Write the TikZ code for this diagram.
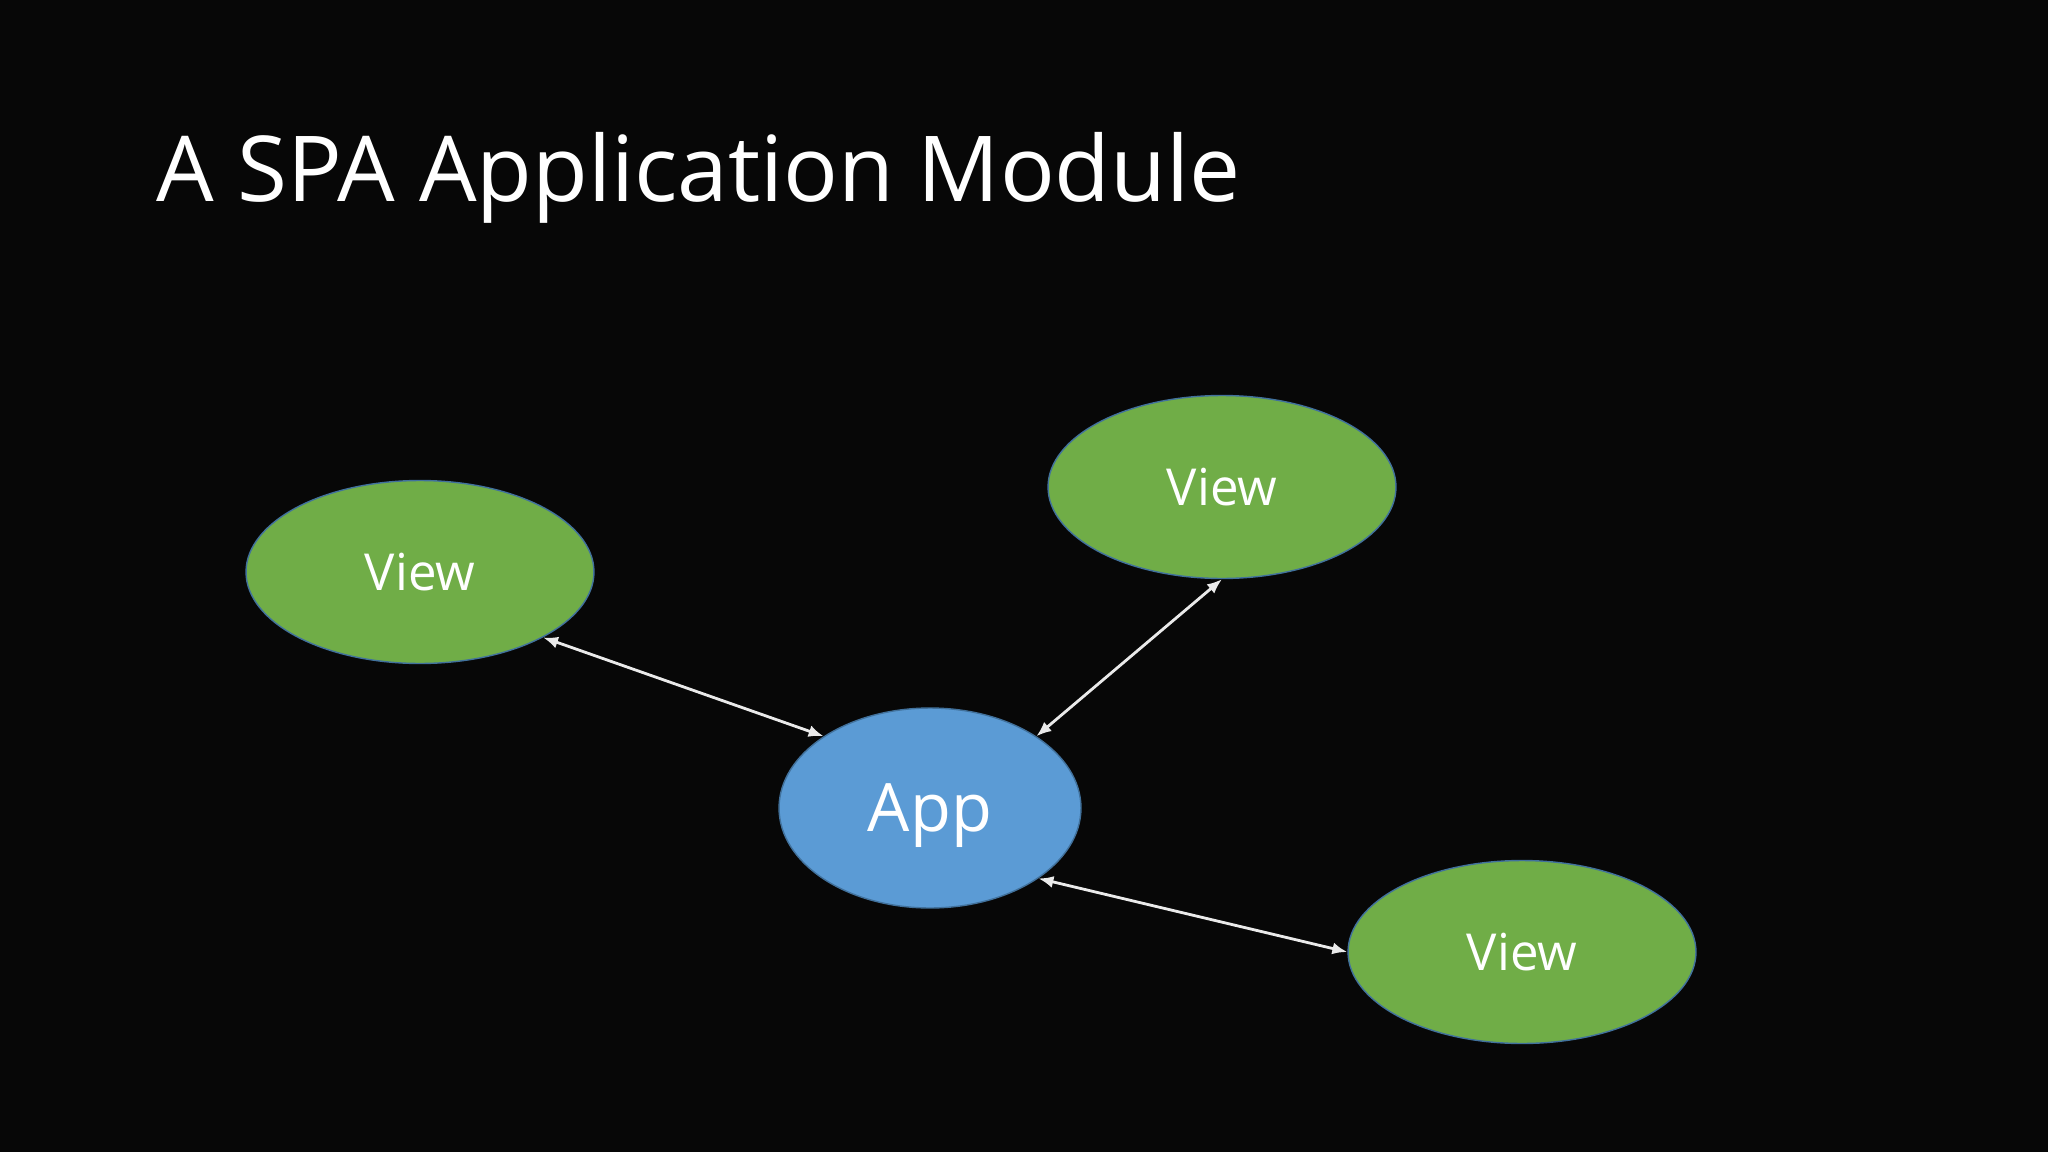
\documentclass[tikz,border=0pt]{standalone}
\usepackage{fontspec}
\setmainfont{Open Sans}
\usetikzlibrary{shapes.geometric,arrows.meta}
\definecolor{bgcol}{HTML}{070707}
\definecolor{viewgreen}{HTML}{70AD47}
\definecolor{appblue}{HTML}{5B9BD5}
\definecolor{edgeblue}{HTML}{41719C}
\definecolor{arrowcol}{HTML}{EAEAEA}
\tikzset{
  viewnode/.style={ellipse, draw=edgeblue, line width=0.8pt, fill=viewgreen,
    minimum width=6.96cm, minimum height=3.66cm, inner sep=0pt,
    text=white, font=\fontsize{29}{29}\selectfont, text depth=0pt},
  appnode/.style={ellipse, draw=edgeblue, line width=0.8pt, fill=appblue,
    minimum width=6.04cm, minimum height=4.0cm, inner sep=0pt,
    text=white, font=\fontsize{38}{38}\selectfont, text depth=0pt},
  link/.style={draw=arrowcol, line width=1.6pt,
    {Latex[length=0.3cm,width=0.24cm]}-{Latex[length=0.3cm,width=0.24cm]}},
  titletext/.style={anchor=base west, inner sep=0pt, text=white,
    font=\fontsize{51.8}{51.8}\selectfont}
}
\begin{document}
\begin{tikzpicture}[x=0.02cm, y=-0.02cm]
  \fill[bgcol] (0,0) rectangle (2048,1152);
  \useasboundingbox (0,0) rectangle (2048,1152);
  \node[titletext] (title) at (156,202) {A SPA Application Module};
  \node[viewnode] (vl) at (420,572) {View};
  \node[viewnode] (vt) at (1222,487) {View};
  \node[viewnode] (vb) at (1522,952) {View};
  \node[appnode] (app) at (930,808) {App};
  \draw[link] (vl.-28) -- (app.146);
  \draw[link] (vt.-90) -- (app.34);
  \draw[link] (app.-33) -- (vb.180);
\end{tikzpicture}
\end{document}
